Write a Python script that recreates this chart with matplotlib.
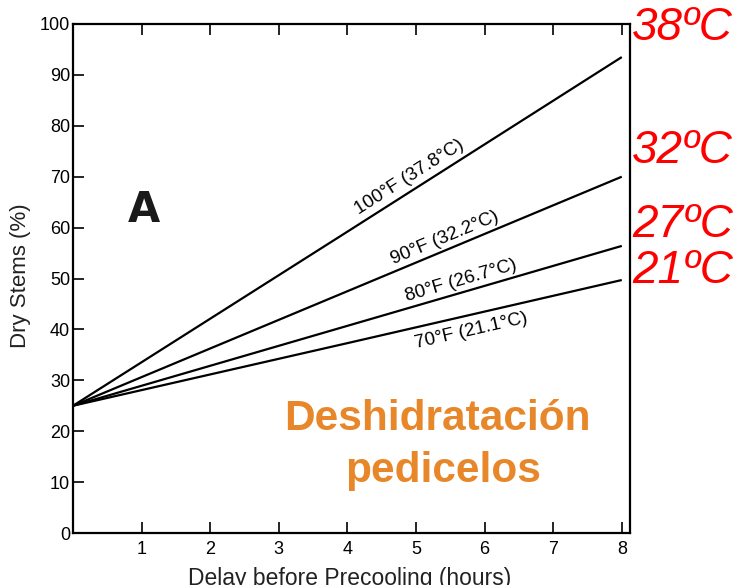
import numpy as np
import matplotlib
matplotlib.use("Agg")
import matplotlib.pyplot as plt

plt.rcParams['font.family'] = ['Liberation Sans', 'DejaVu Sans']

# Dry stems (%) versus delay before precooling (hours)
hours = [0, 4, 8]
dry_100F = [25, 59.2, 93.5]
dry_90F = [25, 47.5, 70.0]
dry_80F = [25, 40.7, 56.4]
dry_70F = [25, 37.3, 49.7]
series = [dry_100F, dry_90F, dry_80F, dry_70F]

curve_labels = ["100°F (37.8°C)", "90°F (32.2°C)", "80°F (26.7°C)", "70°F (21.1°C)"]
label_pos = [(4.91, 69.9), (5.42, 58.0), (5.66, 49.6), (5.81, 39.8)]

x_ticks = [1, 2, 3, 4, 5, 6, 7, 8]
y_ticks = [0, 10, 20, 30, 40, 50, 60, 70, 80, 90, 100]

celsius_tags = ["38ºC", "32ºC", "27ºC", "21ºC"]
tag_baseline_px = [40, 163, 237, 283]

W, H = 739, 585
fig = plt.figure(figsize=(W / 100, H / 100), dpi=100)
ax = fig.add_axes([73 / W, (H - 533) / H, (630 - 73) / W, (533 - 24) / H])
ax.set_xlim(0, 8.12)
ax.set_ylim(0, 100)

for vals in series:
    ax.plot(hours, vals, color='black', lw=1.6, solid_capstyle='butt')

for sp in ax.spines.values():
    sp.set_linewidth(1.6)

ax.set_xticks(x_ticks)
ax.set_yticks(y_ticks)
ax.tick_params(axis='both', direction='in', length=8, width=1.2, labelsize=13,
               colors='black')
ax.tick_params(axis='x', top=True, pad=6)
ax.tick_params(axis='y', pad=2)

fig.text(21 / W, 1 - 276 / H, "Dry Stems (%)", fontsize=16, rotation=90,
         ha='center', va='center', color='#222222')
fig.text(350 / W, 1 - 567 / H, "Delay before Precooling (hours)", fontsize=16.5,
         ha='center', va='top', color='#222222')

# rotated curve labels following each line
fig.canvas.draw()
for vals, text, (lx, ly) in zip(series, curve_labels, label_pos):
    p0 = ax.transData.transform((hours[0], vals[0]))
    p1 = ax.transData.transform((hours[-1], vals[-1]))
    ang = np.degrees(np.arctan2(p1[1] - p0[1], p1[0] - p0[0]))
    ax.text(lx, ly, text, rotation=ang, rotation_mode='anchor', ha='center',
            va='center', fontsize=13.5, color='black')

fig.text(144 / W, 1 - 210 / H, "A", fontsize=30, fontweight='bold',
         family='DejaVu Sans', ha='center', va='center', color='#1a1a1a')

fig.text(437 / W, 1 - 430 / H, "Deshidratación", fontsize=30.5, fontweight='bold',
         color='#E8872A', ha='center', va='baseline')
fig.text(443 / W, 1 - 482 / H, "pedicelos", fontsize=30.5, fontweight='bold',
         color='#E8872A', ha='center', va='baseline')

for tag, ypx in zip(celsius_tags, tag_baseline_px):
    fig.text(632 / W, 1 - ypx / H, tag, fontsize=33, style='italic',
             color='#FF0000', ha='left', va='baseline')

fig.savefig("out.png", dpi=100, facecolor='white')
